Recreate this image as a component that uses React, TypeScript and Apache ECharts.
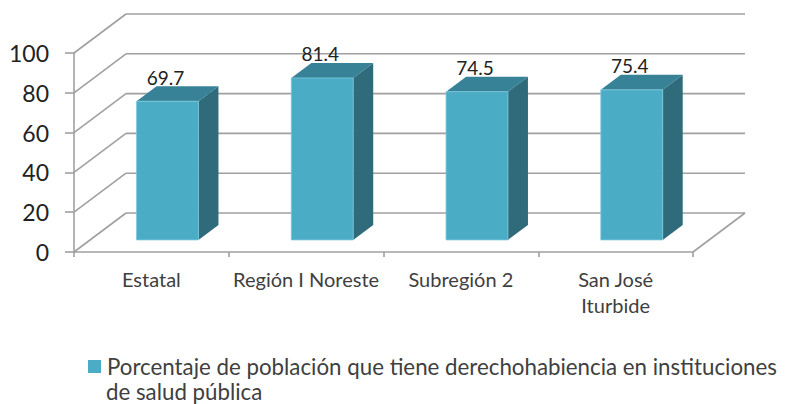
import React, { useEffect, useRef } from "react";
import * as echarts from "echarts";

const CATEGORIES = ["Estatal", "Región I Noreste", "Subregión 2", "San José\nIturbide"];
const VALUES = [69.7, 81.4, 74.5, 75.4];
const Y_TICKS = [0, 20, 40, 60, 80, 100];
const SERIES_NAME = "Porcentaje de población que tiene derechohabiencia en instituciones de salud pública";
const LEGEND_LINE1 = "Porcentaje de población que tiene derechohabiencia en instituciones";
const LEGEND_LINE2 = "de salud pública";

const FONT = "Lato, 'Noto Sans', sans-serif";
const GRID_COLOR = "#a0a0a0";
const FRONT = "#4bacc6";
const SIDE = "#2f6b7a";
const TOP = "#378297";
const DEPTH_X = 52;
const DEPTH_Y = -39;
const BAR_FRONT = 0.31;
const BAR_DEPTH = 0.385;
const BAR_RATIO = 0.4;

export default function App() {
  const ref = useRef<HTMLDivElement>(null);
  useEffect(() => {
    if (!ref.current) return;
    const chart = echarts.init(ref.current, undefined, { renderer: "svg" });
    const option: any = {
      animation: false,
      backgroundColor: "#ffffff",
      grid: { left: 74, right: 92, top: 53, bottom: 152 },
      xAxis: {
        type: "category",
        data: CATEGORIES,
        boundaryGap: true,
        axisLine: { show: true, lineStyle: { color: GRID_COLOR, width: 1.6 } },
        axisTick: { show: true, length: 5, alignWithLabel: false, lineStyle: { color: GRID_COLOR, width: 1.6 } },
        axisLabel: {
          interval: 0,
          margin: 14,
          fontFamily: FONT,
          fontSize: 20,
          lineHeight: 26,
          color: "#404040",
        },
        splitLine: { show: false },
      },
      yAxis: {
        type: "value",
        min: 0,
        max: 100,
        interval: 20,
        axisLine: { show: true, lineStyle: { color: GRID_COLOR, width: 1.6 } },
        axisTick: { show: true, length: 9, lineStyle: { color: GRID_COLOR, width: 1.6 } },
        axisLabel: { margin: 25, fontFamily: FONT, fontSize: 23, color: "#222222" },
        splitLine: { show: false },
      },
      legend: {
        left: 83,
        top: 354,
        padding: 0,
        icon: "none",
        itemWidth: 0,
        itemHeight: 0,
        data: [SERIES_NAME],
        formatter: () => `{sq|}{gap|}${LEGEND_LINE1}\n{ind|}${LEGEND_LINE2}`,
        textStyle: {
          fontFamily: FONT,
          fontSize: 22.3,
          lineHeight: 25,
          color: "#404040",
          rich: {
            sq: { width: 13, height: 13, backgroundColor: FRONT },
            gap: { width: 6 },
            ind: { width: 18 },
          },
        },
      },
      series: [
        {
          type: "custom",
          name: "walls",
          silent: true,
          z: 1,
          data: Y_TICKS.map((v) => [0, v]),
          renderItem: (params: any, api: any) => {
            const cs = params.coordSys;
            const left = cs.x;
            const right = cs.x + cs.width;
            const v = api.value(1);
            const y = api.coord([0, v])[1];
            const style = { stroke: GRID_COLOR, lineWidth: 1.6 };
            const children: any[] = [
              { type: "line", shape: { x1: left, y1: y, x2: left + DEPTH_X, y2: y + DEPTH_Y }, style },
              { type: "line", shape: { x1: left + DEPTH_X, y1: y + DEPTH_Y, x2: right + DEPTH_X, y2: y + DEPTH_Y }, style },
            ];
            if (v === 0) {
              children.push({ type: "line", shape: { x1: right, y1: y, x2: right + DEPTH_X, y2: y + DEPTH_Y }, style });
            }
            return { type: "group", children };
          },
        },
        {
          type: "custom",
          name: SERIES_NAME,
          z: 3,
          itemStyle: { color: FRONT },
          data: VALUES.map((v, i) => [i, v]),
          renderItem: (params: any, api: any) => {
            const idx = api.value(0);
            const val = api.value(1);
            const base = api.coord([idx, 0]);
            const top = api.coord([idx, val]);
            const band = api.size([1, 0])[0];
            const w = band * BAR_RATIO;
            const fx = DEPTH_X * BAR_FRONT;
            const fy = DEPTH_Y * BAR_FRONT;
            const dx = DEPTH_X * BAR_DEPTH;
            const dy = DEPTH_Y * BAR_DEPTH;
            const x0 = base[0] - w / 2 + fx;
            const x1 = x0 + w;
            const yb = base[1] + fy;
            const yt = top[1] + fy;
            return {
              type: "group",
              children: [
                {
                  type: "polygon",
                  shape: { points: [[x1, yt], [x1 + dx, yt + dy], [x1 + dx, yb + dy], [x1, yb]] },
                  style: { fill: SIDE },
                },
                {
                  type: "polygon",
                  shape: { points: [[x0, yt], [x0 + dx, yt + dy], [x1 + dx, yt + dy], [x1, yt]] },
                  style: { fill: TOP },
                },
                {
                  type: "polygon",
                  shape: { points: [[x0, yt], [x1, yt], [x1, yb], [x0, yb]] },
                  style: { fill: FRONT, stroke: "#7cc6da", lineWidth: 0.8 },
                },
                {
                  type: "text",
                  x: x0 + w / 2 - 2,
                  y: yt + dy - 9,
                  style: {
                    text: String(val),
                    fontFamily: FONT,
                    fontSize: 19,
                    fill: "#222222",
                    align: "center",
                    verticalAlign: "middle",
                  },
                },
              ],
            };
          },
        },
      ],
    };
    chart.setOption(option);
    return () => chart.dispose();
  }, []);
  return (
    <div
      ref={ref}
      style={{ position: "fixed", left: 0, top: 0, width: 785, height: 404, background: "#fff" }}
    />
  );
}
